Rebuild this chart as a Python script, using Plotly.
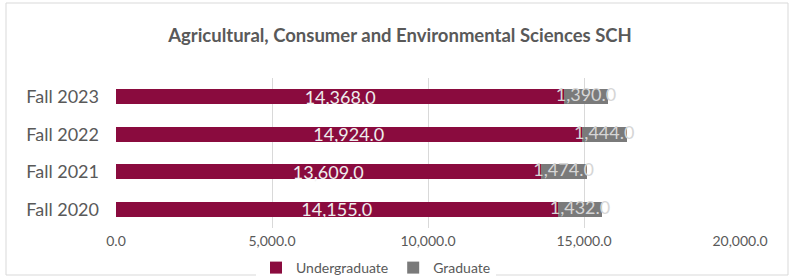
import plotly.graph_objects as go

categories = ["Fall 2020", "Fall 2021", "Fall 2022", "Fall 2023"]
undergraduate = [14155.0, 13609.0, 14924.0, 14368.0]
graduate = [1432.0, 1474.0, 1444.0, 1390.0]
x_ticks = [0, 5000, 10000, 15000, 20000]
x_tick_labels = ["0.0", "5,000.0", "10,000.0", "15,000.0", "20,000.0"]

UG_COLOR = "#8A0B3E"
G_COLOR = "#7A7A7A"
TEXT = "#595959"
FONT = "Lato, 'Open Sans', sans-serif"

fig = go.Figure()
fig.add_trace(go.Bar(
    y=categories, x=undergraduate, name="Undergraduate", orientation="h",
    marker=dict(color=UG_COLOR, line=dict(width=0)),
    text=[f"{v:,.1f}" for v in undergraduate], textposition="inside",
    insidetextanchor="middle", textfont=dict(color="#eeeeee", size=18, family=FONT),
    constraintext="none",
))
fig.add_trace(go.Bar(
    y=categories, x=graduate, name="Graduate", orientation="h",
    marker=dict(color=G_COLOR, line=dict(width=0)),
))
fig.add_trace(go.Scatter(
    y=categories, x=[u + g / 2 for u, g in zip(undergraduate, graduate)],
    mode="text", text=[f"{v:,.1f}" for v in graduate],
    textfont=dict(color="#d6d6d6", size=18, family=FONT),
    textposition="middle center", showlegend=False, hoverinfo="skip",
))

W, H = 790, 278
L, R, T, B = 116, 50, 78, 50
pw = W - L - R
ph = H - T - B

fig.update_layout(
    width=W, height=H,
    margin=dict(l=L, r=R, t=T, b=B, autoexpand=False),
    barmode="stack", bargap=0.6,
    paper_bgcolor="white", plot_bgcolor="white",
    font=dict(family=FONT, color=TEXT),
    title=dict(text="Agricultural, Consumer and Environmental Sciences SCH",
               x=400 / W, xref="container", xanchor="center",
               y=1 - 36 / H, yref="container", yanchor="middle",
               font=dict(size=18.5, color=TEXT, family=FONT, weight="bold")),
    xaxis=dict(range=[0, 20000], tickvals=x_ticks, ticktext=x_tick_labels,
               showgrid=True, gridcolor="#d9d9d9", gridwidth=1,
               zeroline=False, showline=False, automargin=False,
               tickfont=dict(size=14, color=TEXT), ticks="", ticklabelstandoff=3),
    yaxis=dict(categoryorder="array", categoryarray=categories,
               tickfont=dict(size=18, color=TEXT), ticks="", showgrid=False,
               automargin=False, ticklabelstandoff=16),
    legend=dict(orientation="h", x=376 / W, xref="container", xanchor="center",
                y=1 - 268 / H, yref="container", yanchor="middle",
                font=dict(size=14, color=TEXT), itemwidth=30,
                tracegroupgap=0, traceorder="normal"),
    shapes=[dict(type="rect", xref="paper", yref="paper",
                 x0=(6 - L) / pw, x1=(788 - L) / pw,
                 y0=(H - 275 - B) / ph, y1=(H - 3 - B) / ph,
                 line=dict(color="#d9d9d9", width=1), layer="below")],
)
fig.write_html("out.html", config={"displayModeBar": False},
               post_script="document.body.style.margin='0';document.body.style.overflow='hidden';")
